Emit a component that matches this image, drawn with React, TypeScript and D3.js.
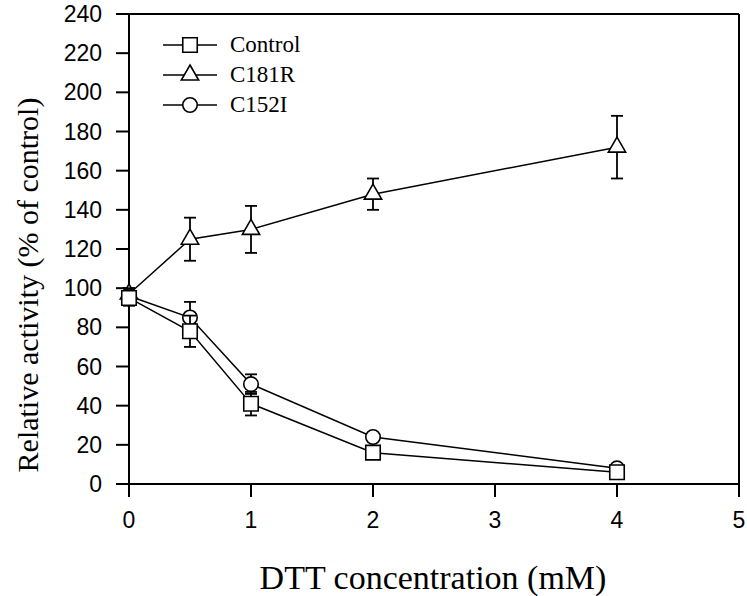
import React from "react";
import * as d3 from "d3";

const doses = [0, 0.5, 1, 2, 4];
const controlVals = [95, 78, 41, 16, 6];
const controlErr = [4, 8, 6, 2, 1];
const c181rVals = [97, 125, 130, 148, 172];
const c181rErr = [3, 11, 12, 8, 16];
const c152iVals = [96, 85, 51, 24, 8];
const c152iErr = [4, 8, 5, 2, 1];
const xTicks = [0, 1, 2, 3, 4, 5];
const yTicks = [0, 20, 40, 60, 80, 100, 120, 140, 160, 180, 200, 220, 240];
const seriesNames = ["Control", "C181R", "C152I"];

const W = 747, H = 596;
const L = 129, R = 739, T = 14, B = 484;

export default function App() {
  const x = d3.scaleLinear().domain([0, 5]).range([L, R]);
  const y = d3.scaleLinear().domain([0, 240]).range([B, T]);
  const series = [
    { name: "C181R", vals: c181rVals, err: c181rErr, sym: d3.symbolTriangle, size: 130 },
    { name: "C152I", vals: c152iVals, err: c152iErr, sym: d3.symbolCircle, size: 165 },
    { name: "Control", vals: controlVals, err: controlErr, sym: d3.symbolSquare, size: 210 },
  ];
  const line = d3.line<number>().x((_, i) => x(doses[i])).y((v) => y(v));
  const symPath = (s: any, size: number) => d3.symbol().type(s).size(size)() as string;
  const legendSyms: Record<string, any> = {
    Control: [d3.symbolSquare, 210],
    C181R: [d3.symbolTriangle, 130],
    C152I: [d3.symbolCircle, 165],
  };
  const cap = 6;
  const serif = "'Times New Roman', 'Liberation Serif', serif";
  const sans = "Arial, 'Liberation Sans', sans-serif";
  return (
    <svg width={W} height={H} style={{ position: "absolute", left: 0, top: 0, background: "#fff" }}>
      <rect x={0} y={0} width={W} height={H} fill="#fff" />
      <g stroke="#000" strokeWidth={2} fill="none">
        <line x1={L - 13} y1={B} x2={R} y2={B} />
        <line x1={L - 13} y1={T} x2={R} y2={T} />
        <line x1={L} y1={T} x2={L} y2={B + 13} />
        <line x1={R} y1={T} x2={R} y2={B + 13} />
      </g>
      {yTicks.map((t) => (
        <g key={"y" + t}>
          <line x1={L - 13} x2={L} y1={y(t)} y2={y(t)} stroke="#000" strokeWidth={2} />
          <text x={102} y={y(t) + 8} textAnchor="end" fontFamily={sans} fontSize={23}>
            {t}
          </text>
        </g>
      ))}
      {xTicks.map((t) => (
        <g key={"x" + t}>
          <line x1={x(t)} x2={x(t)} y1={B} y2={B + 13} stroke="#000" strokeWidth={2} />
          <text x={x(t)} y={528} textAnchor="middle" fontFamily={sans} fontSize={23}>
            {t}
          </text>
        </g>
      ))}
      <text x={433} y={589} textAnchor="middle" fontFamily={serif} fontSize={34}>
        DTT concentration (mM)
      </text>
      <text
        transform={`translate(38, ${(T + B) / 2 + 36}) rotate(-90)`}
        textAnchor="middle"
        fontFamily={serif}
        fontSize={30}
      >
        Relative activity (% of control)
      </text>
      {series.map((s) => (
        <g key={s.name}>
          <path d={line(s.vals) as string} fill="none" stroke="#000" strokeWidth={1.5} />
          {s.vals.map((v, i) => (
            <g key={i} stroke="#000" strokeWidth={1.8}>
              <line x1={x(doses[i])} x2={x(doses[i])} y1={y(v + s.err[i])} y2={y(v - s.err[i])} />
              <line x1={x(doses[i]) - cap} x2={x(doses[i]) + cap} y1={y(v + s.err[i])} y2={y(v + s.err[i])} />
              <line x1={x(doses[i]) - cap} x2={x(doses[i]) + cap} y1={y(v - s.err[i])} y2={y(v - s.err[i])} />
            </g>
          ))}
          {s.vals.map((v, i) => (
            <path
              key={"m" + i}
              d={symPath(s.sym, s.size)}
              transform={`translate(${x(doses[i])},${y(v)})`}
              fill="#fff"
              stroke="#000"
              strokeWidth={1.6}
            />
          ))}
        </g>
      ))}
      {seriesNames.map((n, i) => {
        const ly = 45 + i * 30;
        const [sym, size] = legendSyms[n];
        return (
          <g key={n}>
            <line x1={163} x2={217} y1={ly} y2={ly} stroke="#000" strokeWidth={1.5} />
            <path d={symPath(sym, size)} transform={`translate(190,${ly})`} fill="#fff" stroke="#000" strokeWidth={1.6} />
            <text x={230} y={ly + 7} fontFamily={serif} fontSize={23}>
              {n}
            </text>
          </g>
        );
      })}
    </svg>
  );
}
